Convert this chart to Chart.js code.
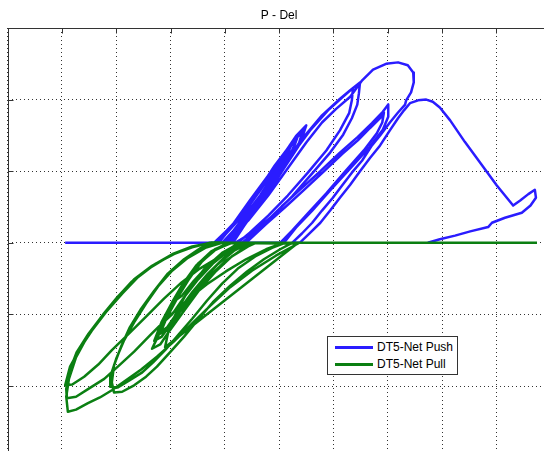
<!DOCTYPE html>
<html lang="en">
<head>
<meta charset="UTF-8">
<title>P - Del</title>
<script src="https://cdn.jsdelivr.net/npm/chart.js"></script>
<style>
  html, body { margin: 0; padding: 0; background: #fff; overflow: hidden; }
  #wrap { position: relative; width: 560px; height: 470px; }
  #legend { position: absolute; left: 327px; top: 336px; width: 129px; height: 37px;
            border: 1px solid #333; background: #fff;
            font: 12px "Liberation Sans", Arial, sans-serif; color: #000; }
  .row { position: absolute; left: 0; width: 129px; height: 16px; line-height: 16px; }
  .swatch { position: absolute; left: 7px; top: 6.5px; width: 38px; height: 3px; }
  .label { position: absolute; left: 49px; top: 0; white-space: nowrap; }
</style>
</head>
<body>
<div id="wrap">
  <canvas id="chart" width="560" height="470"></canvas>
  <div id="legend"></div>
</div>
<script>
// Del (in) / P (kips) pairs

// Push channel
const pushBase = [[-2.94, 0], [-0.20, 0]];
const pushA1 = [[-0.20,0],[0.13,24],[0.46,59],[0.80,94],[1.11,126],[1.24,139],[1.16,125],[0.92,98],[0.65,66],[0.37,38],[0.13,14],[-0.05,0]];
const pushA2 = [[-0.16,0],[0.19,28],[0.56,66],[0.92,108],[1.20,136],[1.35,150],[1.27,133],[1.02,104],[0.74,70],[0.46,42],[0.21,14],[0.02,0]];
const pushA3 = [[-0.13,0],[0.28,34],[0.65,73],[1.02,115],[1.29,143],[1.44,158],[1.37,140],[1.13,111],[0.83,76],[0.54,45],[0.28,17],[0.10,0]];
const pushA4 = [[-0.18,0],[0.21,31],[0.61,73],[0.98,112],[1.31,149],[1.50,164],[1.42,146],[1.20,118],[0.92,84],[0.61,51],[0.35,23],[0.15,0]];
const pushA5 = [[-0.11,0],[0.28,37],[0.69,79],[1.05,118],[1.35,149],[1.46,155],[1.35,134],[1.09,104],[0.80,70],[0.50,40],[0.24,12],[0.06,0]];
const pushA6 = [[-0.14,0],[0.24,33],[0.57,67],[0.91,104],[1.16,132],[1.31,143],[1.24,129],[1.02,101],[0.76,70],[0.46,38],[0.21,12],[0.00,0]];
const pushB1 = [[-0.05,0],[0.37,34],[0.74,73],[1.11,111],[1.48,150],[1.79,178],[2.09,199],[2.31,213],[2.49,224],[2.47,209],[2.44,193],[2.34,174],[2.18,151],[1.94,126],[1.61,97],[1.24,65],[0.87,37],[0.50,14],[0.19,0]];
const pushB2 = [[-0.01,0],[0.41,37],[0.80,77],[1.20,119],[1.57,157],[1.90,185],[2.16,203],[2.36,216],[2.34,199],[2.29,181],[2.12,157],[1.87,129],[1.53,98],[1.16,66],[0.80,38],[0.46,14],[0.24,0]];
const pushC1 = [[0.32,0],[0.69,24],[1.05,51],[1.38,74],[1.76,100],[2.12,126],[2.45,148],[2.71,167],[2.91,183],[3.01,193],[3.01,176],[2.91,158],[2.67,134],[2.31,104],[1.94,73],[1.61,45],[1.31,21],[1.09,0]];
const pushC2 = [[0.39,0],[0.76,26],[1.13,51],[1.46,74],[1.83,100],[2.16,124],[2.45,143],[2.67,160],[2.86,174],[2.93,182],[2.90,168],[2.80,153],[2.56,129],[2.23,101],[1.87,69],[1.53,41],[1.24,17],[1.02,0]];
const pushD = [[0.02,0],[0.43,31],[0.80,66],[1.16,104],[1.50,140],[1.79,168],[2.05,187],[2.31,204],[2.53,227],[2.73,242],[2.97,250],[3.19,252],[3.37,248],[3.47,238],[3.48,224],[3.43,210],[3.34,199],[3.32,193],
               [3.19,182],[3.04,168],[2.86,150],[2.71,136],[2.53,115],[2.34,98],[2.16,80],[1.99,63],[1.79,45],[1.61,28],[1.42,13],[1.24,0]];
const pushLast = [[1.38,0],[1.57,14],[1.76,28],[1.94,45],[2.12,63],[2.31,81],[2.49,100],[2.67,118],[2.86,136],[3.04,157],[3.19,174],[3.30,185],[3.41,195],[3.56,199],[3.71,200],[3.83,197],[3.96,189],[4.15,171],[4.42,141],[4.70,112],[5.01,80],[5.31,52],
                  [5.44,59],[5.59,68],[5.71,74],[5.73,63],[5.63,52],[5.47,42],[5.16,35],[4.92,28],[4.85,22],[4.52,16],[4.24,10],[3.96,5],[3.74,0]];

// Pull channel
const pullBase = [[5.75, 0], [0.13, 0]];
const pullA1 = [[0.10,0],[-0.18,-9],[-0.42,-25],[-0.64,-46],[-0.83,-67],[-0.92,-81],[-0.79,-74],[-0.57,-53],[-0.31,-32],[-0.05,-15],[0.24,-1]];
const pullA2 = [[0.08,0],[-0.22,-11],[-0.48,-28],[-0.71,-51],[-0.90,-75],[-1.05,-97],[-1.10,-109],[-0.97,-100],[-0.75,-76],[-0.49,-51],[-0.22,-29],[0.06,-12],[0.32,-1]];
const pullA3 = [[0.11,0],[-0.20,-11],[-0.46,-29],[-0.68,-53],[-0.88,-78],[-1.06,-103],[-1.19,-125],[-1.06,-118],[-0.85,-95],[-0.59,-68],[-0.31,-43],[-0.03,-22],[0.24,-7],[0.39,0]];
const pullA4 = [[0.06,0],[-0.25,-12],[-0.53,-32],[-0.77,-57],[-0.97,-83],[-1.16,-110],[-1.30,-137],[-1.16,-131],[-0.95,-109],[-0.70,-81],[-0.42,-54],[-0.13,-30],[0.17,-11],[0.46,0]];
const pullA5 = [[0.13,0],[-0.16,-9],[-0.42,-26],[-0.64,-48],[-0.86,-75],[-1.08,-106],[-1.27,-137],[-1.34,-148],[-1.19,-142],[-1.01,-122],[-0.75,-95],[-0.48,-67],[-0.18,-41],[0.13,-19],[0.43,-5],[0.57,0]];
const pullA6 = [[0.10,0],[-0.22,-11],[-0.49,-30],[-0.71,-54],[-0.90,-79],[-1.08,-106],[-1.19,-127],[-1.05,-122],[-0.83,-97],[-0.55,-71],[-0.27,-46],[0.02,-25],[0.32,-9],[0.50,0]];
const pullB1 = [[-0.05,0],[-0.36,-7],[-0.68,-21],[-0.97,-39],[-1.23,-61],[-1.45,-85],[-1.67,-111],[-1.86,-137],[-2.00,-162],[-2.10,-185],[-2.11,-201],[-1.97,-202],[-1.75,-192],[-1.52,-181],[-1.32,-167],[-1.10,-150],[-0.86,-129],[-0.60,-106],[-0.33,-81],[-0.05,-57],[0.24,-36],[0.56,-19],[0.87,-7],[1.11,0]];
const pullB2 = [[-0.13,0],[-0.46,-8],[-0.75,-23],[-1.05,-43],[-1.30,-67],[-1.54,-92],[-1.75,-118],[-1.91,-145],[-2.04,-171],[-2.08,-195],[-2.04,-209],[-1.89,-208],[-1.67,-199],[-1.45,-187],[-1.25,-173],[-1.01,-153],[-0.75,-131],[-0.49,-107],[-0.22,-83],[0.10,-60],[0.41,-40],[0.72,-23],[1.02,-9],[1.24,0]];
const pullC1 = [[-0.18,0],[-0.55,-5],[-0.92,-15],[-1.27,-29],[-1.60,-48],[-1.89,-71],[-2.19,-97],[-2.45,-123],[-2.67,-148],[-2.85,-173],[-2.94,-199],[-2.81,-198],[-2.59,-187],[-2.33,-170],[-2.08,-150],[-1.78,-128],[-1.45,-103],[-1.12,-78],[-0.79,-55],[-0.46,-36],[-0.13,-21],[0.21,-9],[0.50,-1]];
const pullC2 = [[-0.24,0],[-0.60,-5],[-0.97,-16],[-1.34,-32],[-1.67,-51],[-1.97,-75],[-2.24,-100],[-2.51,-127],[-2.73,-153],[-2.87,-181],[-2.92,-204],[-2.91,-217],[-2.74,-215],[-2.49,-203],[-2.22,-190],[-1.97,-173],[-1.67,-152],[-1.36,-128],[-1.03,-103],[-0.68,-79],[-0.33,-58],[0.02,-40],[0.39,-23],[0.76,-9],[1.05,-1]];
const pullC3 = [[-0.27,0],[-0.64,-7],[-1.01,-18],[-1.38,-35],[-1.71,-54],[-2.00,-78],[-2.28,-104],[-2.54,-132],[-2.74,-160],[-2.87,-190],[-2.92,-215],[-2.89,-236],[-2.74,-233],[-2.52,-224],[-2.30,-216],[-2.08,-206],[-1.82,-192],[-1.54,-177],[-1.25,-159],[-0.94,-138],[-0.62,-114],[-0.27,-88],[0.10,-62],[0.50,-39],[0.94,-18],[1.35,-1]];
const pullLast = [[0.28,0],[-0.05,-14],[-0.36,-35],[-0.64,-62],[-0.86,-92],[-1.03,-120],[-1.10,-146],[1.35,0]];

// axis ticks
const delTicks = [-4, 6, 1];      // min, max, step
const pTicks = [-300, 300, 100];

const pushPath = [].concat(pushBase, pushA1, pushA2, pushA3, pushA4, pushA5, pushA6,
                           pushB1, pushB2, pushC1, pushC2, pushD, pushLast);
const pullPath = [].concat(pullBase, pullA1, pullA2, pullA3, pullA4, pullA5, pullA6,
                           pullB1, pullB2, pullC1, pullC2, pullC3, pullLast);

const toXY = arr => arr.map(p => ({ x: p[0], y: p[1] }));

// frame + inward tick marks, matlab style
const framePlugin = {
    id: 'frame',
    afterDatasetsDraw(chart) {
        const { ctx, chartArea: a, scales } = chart;
        ctx.save();
        ctx.strokeStyle = '#333';
        ctx.lineWidth = 1;
        const L = Math.round(a.left) + 0.5, R = Math.round(a.right) + 0.5;
        const T = Math.round(a.top) + 0.5, B = Math.round(a.bottom) + 0.5;
        ctx.strokeRect(L, T, R - L, B - T);
        ctx.beginPath();
        scales.x.ticks.forEach(t => {
            const px = Math.round(scales.x.getPixelForValue(t.value)) + 0.5;
            ctx.moveTo(px, T); ctx.lineTo(px, T + 5);
            ctx.moveTo(px, B); ctx.lineTo(px, B - 5);
        });
        scales.y.ticks.forEach(t => {
            const py = Math.round(scales.y.getPixelForValue(t.value)) + 0.5;
            ctx.moveTo(L, py); ctx.lineTo(L + 5, py);
            ctx.moveTo(R, py); ctx.lineTo(R - 5, py);
        });
        ctx.stroke();
        ctx.restore();
    }
};

const gridOpts = { color: 'rgba(0,0,0,0.8)', lineWidth: 1, drawTicks: false };

const chart = new Chart(document.getElementById('chart'), {
    type: 'scatter',
    data: {
        datasets: [{
            label: 'DT5-Net Push',
            data: toXY(pushPath),
            showLine: true,
            borderColor: '#2a1cff',
            borderWidth: 2.5,
            pointRadius: 0,
            tension: 0,
            borderJoinStyle: 'round',
            order: 1
        }, {
            label: 'DT5-Net Pull',
            data: toXY(pullPath),
            showLine: true,
            borderColor: '#0b7f12',
            borderWidth: 2.5,
            pointRadius: 0,
            tension: 0,
            borderJoinStyle: 'round',
            order: 0
        }]
    },
    options: {
        responsive: false,
        animation: false,
        layout: { padding: { left: 7.6, right: 9.4, top: 0, bottom: 12.4 } },
        scales: {
            x: {
                type: 'linear', min: delTicks[0], max: delTicks[1],
                ticks: { display: false, stepSize: delTicks[2] },
                grid: gridOpts,
                border: { display: false, dash: [1, 3] }
            },
            y: {
                type: 'linear', min: pTicks[0], max: pTicks[1],
                ticks: { display: false, stepSize: pTicks[2] },
                grid: gridOpts,
                border: { display: false, dash: [1, 3] }
            }
        },
        plugins: {
            legend: { display: false },
            tooltip: { enabled: false },
            title: {
                display: true,
                text: 'P - Del',
                color: '#000',
                font: { family: '"Liberation Sans", Arial, sans-serif', size: 12, weight: 'normal' },
                padding: { top: 8, bottom: 5.6 }
            }
        }
    },
    plugins: [framePlugin]
});

// legend box inside the axes
const legendEl = document.getElementById('legend');
chart.data.datasets.forEach((ds, i) => {
    const row = document.createElement('div');
    row.className = 'row';
    row.style.top = (2 + i * 17) + 'px';
    const sw = document.createElement('span');
    sw.className = 'swatch';
    sw.style.background = ds.borderColor;
    const lb = document.createElement('span');
    lb.className = 'label';
    lb.textContent = ds.label;
    row.appendChild(sw);
    row.appendChild(lb);
    legendEl.appendChild(row);
});
</script>
</body>
</html>
